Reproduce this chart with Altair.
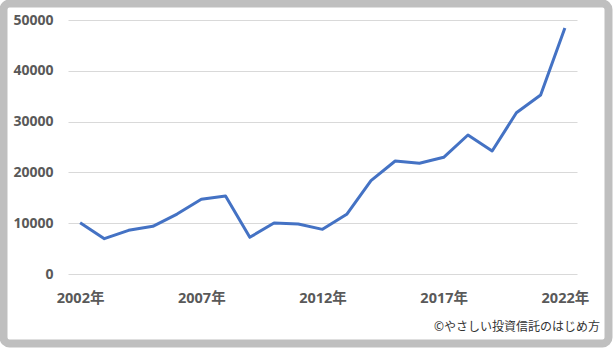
import altair as alt
import pandas as pd

years = list(range(2002, 2023))
values = [10100, 6950, 8600, 9390, 11800, 14700, 15350, 7220, 10040, 9840, 8790,
          11750, 18370, 22240, 21790, 22970, 27360, 24210, 31750, 35240, 48430]
credit = "©やさしい投資信託のはじめ方"

df = pd.DataFrame({"year": years, "value": values})

FONT = "Noto Sans, Noto Sans CJK JP"

# gray frame drawn as a stroked rectangle around the whole page (page coords minus padding)
frame = alt.Chart(pd.DataFrame({"a": [0]})).mark_rect(
    filled=False, stroke="#BFBFBF", strokeWidth=8, cornerRadius=6
).encode(
    x=alt.value(-68 + 3.5), x2=alt.value(613 - 68 - 4.5),
    y=alt.value(-20 + 3.5), y2=alt.value(348 - 20 - 4.5)
)

line = alt.Chart(df).mark_line(color="#4472C4", strokeWidth=3, strokeJoin="round").encode(
    x=alt.X("year:O", title=None,
            scale=alt.Scale(type="point", padding=0.5),
            axis=alt.Axis(labelAngle=0, ticks=False, domain=False, grid=False,
                          labelExpr="datum.value % 5 == 2 ? datum.value + '年' : ''",
                          labelFont=FONT, labelFontSize=14.5, labelFontWeight="bold",
                          labelColor="#595959", labelPadding=17)),
    y=alt.Y("value:Q", title=None,
            scale=alt.Scale(domain=[0, 50000], nice=False),
            axis=alt.Axis(values=[0, 10000, 20000, 30000, 40000, 50000], format="d",
                          ticks=False, domain=False, gridColor="#D9D9D9",
                          labelFont=FONT, labelFontSize=14, labelFontWeight="bold",
                          labelColor="#595959", labelPadding=15)),
)

text = alt.Chart(pd.DataFrame({"t": [credit]})).mark_text(
    align="right", baseline="middle", font=FONT, fontSize=12, color="#333333"
).encode(text="t:N", x=alt.value(532), y=alt.value(307))

chart = alt.layer(line, text, frame).properties(
    width=509, height=254,
    autosize=alt.AutoSizeParams(type="none"),
    padding={"left": 68, "top": 20, "right": 36, "bottom": 74},
    background="white",
).configure_view(stroke=None)

chart.save("out.html", embed_options={"renderer": "svg", "actions": False})
